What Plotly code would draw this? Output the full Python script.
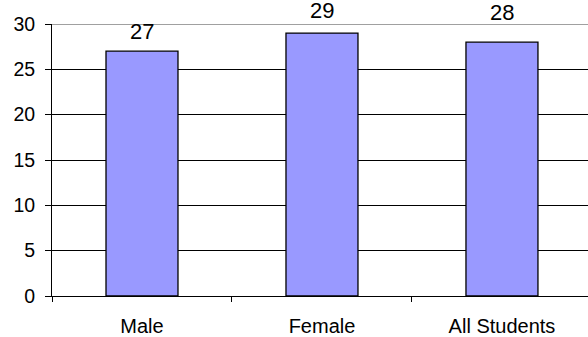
import plotly.graph_objects as go

categories = ["Male", "Female", "All Students"]
values = [27, 29, 28]
label_shift = [20, 23, 30]

FONT = "Liberation Sans, Arial, sans-serif"

fig = go.Figure()
fig.add_trace(go.Bar(
    x=categories, y=values, width=0.4,
    marker=dict(color="#9999FF", line=dict(color="#000000", width=1.3)),
    hoverinfo="skip",
))

for c, v, s in zip(categories, values, label_shift):
    fig.add_annotation(x=c, y=v, text=str(v), showarrow=False, yshift=s,
                       yanchor="middle", font=dict(family=FONT, size=22, color="#000"))

fig.add_shape(type="line", xref="paper", yref="y", x0=0, x1=1, y0=30, y1=30,
              line=dict(color="#A0A0A0", width=2), layer="above")

fig.update_layout(
    width=588, height=337,
    margin=dict(l=52, r=0, t=24, b=41, autoexpand=False),
    paper_bgcolor="white", plot_bgcolor="white",
    showlegend=False,
    font=dict(family=FONT, size=20, color="#000"),
    xaxis=dict(
        type="category", range=[-0.5, 2.478], automargin=False,
        tickson="boundaries", ticks="outside", ticklen=5, tickcolor="#000",
        showline=True, linecolor="#000", linewidth=1,
        showgrid=False, ticklabelstandoff=12,
        tickfont=dict(family=FONT, size=20, color="#000"),
    ),
    yaxis=dict(
        range=[0, 30], tickvals=[0, 5, 10, 15, 20, 25, 30], automargin=False,
        ticks="outside", ticklen=6, tickcolor="#000",
        showline=True, linecolor="#000", linewidth=1,
        showgrid=True, gridcolor="#000", gridwidth=1,
        zeroline=False, ticklabelstandoff=6,
        tickfont=dict(family=FONT, size=19.5, color="#000"),
    ),
)

fig.write_html("out.html", config={"displayModeBar": False},
               post_script="document.body.style.margin='0';document.body.style.overflow='hidden';")
